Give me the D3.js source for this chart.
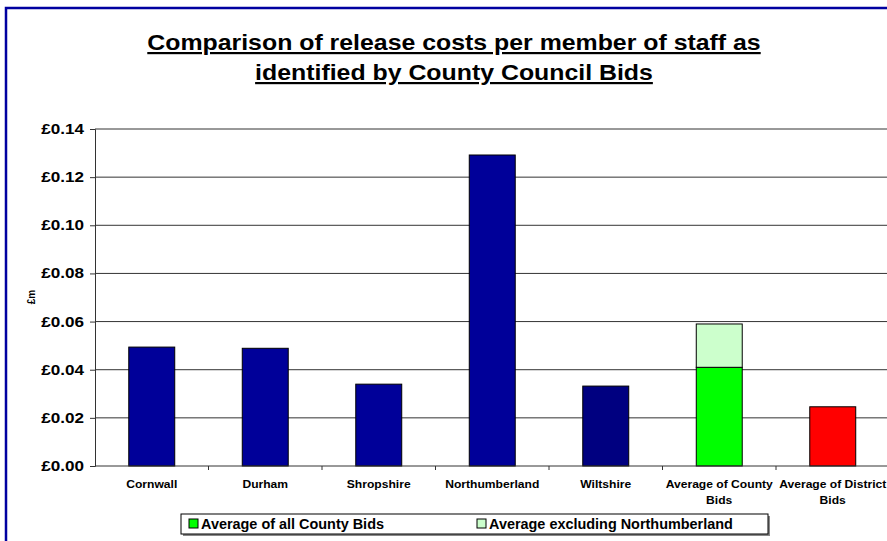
<!DOCTYPE html>
<html>
<head>
<meta charset="utf-8">
<script src="https://cdn.jsdelivr.net/npm/d3@7"></script>
<style>
  html, body { margin: 0; padding: 0; background: #fff; }
  svg { display: block; font-family: Arial, 'Liberation Sans', sans-serif; }
</style>
</head>
<body>
<svg id="chart" width="887" height="541"></svg>
<script>
const categories = ['Cornwall', 'Durham', 'Shropshire', 'Northumberland', 'Wiltshire', 'Average of County Bids', 'Average of District Bids']
const labelLines = [['Cornwall'], ['Durham'], ['Shropshire'], ['Northumberland'], ['Wiltshire'], ['Average of County', 'Bids'], ['Average of District', 'Bids']]
const values = [0.0494, 0.0489, 0.034, 0.1292, 0.0332, 0.041, 0.0246]
const barColors = ['#000099', '#000099', '#000099', '#000099', '#000080', '#00ff00', '#ff0000']
// stacked top part on the county average bar
const exclSeries = [null, null, null, null, null, 0.059, null]
const yTicks = [0, 0.02, 0.04, 0.06, 0.08, 0.1, 0.12, 0.14]
const legendItems = [
  { name: 'Average of all County Bids', color: '#00ff00' },
  { name: 'Average excluding Northumberland', color: '#ccffcc' },
]

const width = 887
const height = 541
const margin = { left: 95, top: 129, bottom: 466 }

const svg = d3.select('#chart')

// the source chart text is a bit wider than the font, so stretch it sideways
function stretch(sel, sx) {
  sel.each(function () {
    const w = this.getComputedTextLength()
    this.setAttribute('textLength', w * sx)
    this.setAttribute('lengthAdjust', 'spacingAndGlyphs')
  })
}

// outer blue frame (runs off the right/bottom edges)
svg.append('rect')
  .attr('x', 6).attr('y', 8)
  .attr('width', 920).attr('height', 560)
  .attr('fill', 'none')
  .attr('stroke', '#0000a0')
  .attr('stroke-width', 2.5)

// title
const title = svg.append('text')
  .attr('text-anchor', 'middle')
  .attr('font-weight', 'bold')
  .attr('font-size', 22)
  .attr('text-decoration', 'underline')
title.append('tspan').attr('x', 454).attr('y', 50).text('Comparison of release costs per member of staff as')
title.append('tspan').attr('x', 454).attr('y', 80).text('identified by County Council Bids')
stretch(title.selectAll('tspan'), 1.13)

const x = d3.scaleBand().domain(categories).range([margin.left, margin.left + 113.5 * 7]).padding(0)
const y = d3.scaleLinear().domain([0, 0.14]).range([margin.bottom, margin.top])
const barW = x.bandwidth() * 0.405

// gridlines
svg.append('g')
  .selectAll('line')
  .data(yTicks.filter((d) => d > 0))
  .join('line')
  .attr('x1', margin.left).attr('x2', width)
  .attr('y1', (d) => y(d)).attr('y2', (d) => y(d))
  .attr('stroke', '#333')
  .attr('stroke-width', 1)

// y axis
const yAxis = svg.append('g')
  .attr('transform', `translate(${margin.left},0)`)
  .call(d3.axisLeft(y).tickValues(yTicks).tickSize(5).tickPadding(6).tickFormat((d) => '£' + d.toFixed(2)))
yAxis.select('.domain').attr('stroke', '#333')
yAxis.selectAll('.tick line').attr('stroke', '#333')
yAxis.selectAll('text').attr('font-size', 14).attr('font-weight', 'bold').attr('font-family', null).attr('fill', '#000')
stretch(yAxis.selectAll('text'), 1.22)

svg.append('text')
  .attr('transform', 'translate(35,297) rotate(-90)')
  .attr('text-anchor', 'middle')
  .attr('font-size', 10)
  .attr('font-weight', 'bold')
  .text('£m')

// bars
const bars = svg.append('g')
bars.selectAll('rect')
  .data(categories)
  .join('rect')
  .attr('x', (d) => x(d) + (x.bandwidth() - barW) / 2)
  .attr('y', (d, i) => y(values[i]))
  .attr('width', barW)
  .attr('height', (d, i) => y(0) - y(values[i]))
  .attr('fill', (d, i) => barColors[i])
  .attr('stroke', '#000')
  .attr('stroke-width', 1)

bars.selectAll('rect.excl')
  .data(categories.filter((d, i) => exclSeries[i] != null))
  .join('rect')
  .attr('class', 'excl')
  .attr('x', (d) => x(d) + (x.bandwidth() - barW) / 2)
  .attr('y', (d) => y(exclSeries[categories.indexOf(d)]))
  .attr('width', barW)
  .attr('height', (d) => y(values[categories.indexOf(d)]) - y(exclSeries[categories.indexOf(d)]))
  .attr('fill', '#ccffcc')
  .attr('stroke', '#000')
  .attr('stroke-width', 1)

// x axis
const xAxis = svg.append('g').attr('transform', `translate(0,${margin.bottom})`)
xAxis.append('line').attr('x1', margin.left).attr('x2', width).attr('stroke', '#333')
xAxis.selectAll('line.tk')
  .data(categories.slice(1))
  .join('line')
  .attr('class', 'tk')
  .attr('x1', (d) => x(d)).attr('x2', (d) => x(d))
  .attr('y1', 0).attr('y2', 4)
  .attr('stroke', '#333')

const xl = xAxis.selectAll('text')
  .data(categories)
  .join('text')
  .attr('text-anchor', 'middle')
  .attr('font-size', 11)
  .attr('font-weight', 'bold')
xl.selectAll('tspan')
  .data((d, i) => labelLines[i].map((t) => ({ t, c: d })))
  .join('tspan')
  .attr('x', (d) => x(d.c) + x.bandwidth() / 2)
  .attr('y', (d, j) => 22 + j * 16)
  .text((d) => d.t)
stretch(xl.selectAll('tspan'), 1.1)

// legend
const lg = svg.append('g').attr('transform', 'translate(181,514)')
lg.append('rect').attr('x', 2).attr('y', 2).attr('width', 587).attr('height', 20).attr('fill', '#888')
lg.append('rect').attr('width', 587).attr('height', 20).attr('fill', '#fff').attr('stroke', '#000')
const lgX = [8, 296]
const li = lg.selectAll('g.item').data(legendItems).join('g').attr('class', 'item')
  .attr('transform', (d, i) => `translate(${lgX[i]},0)`)
li.append('rect').attr('x', 0).attr('y', 5).attr('width', 9).attr('height', 9)
  .attr('fill', (d) => d.color).attr('stroke', '#000')
const lt = li.append('text').attr('x', 12).attr('y', 15).attr('font-size', 14).attr('font-weight', 'bold').text((d) => d.name)
stretch(lt, 1.03)
</script>
</body>
</html>
